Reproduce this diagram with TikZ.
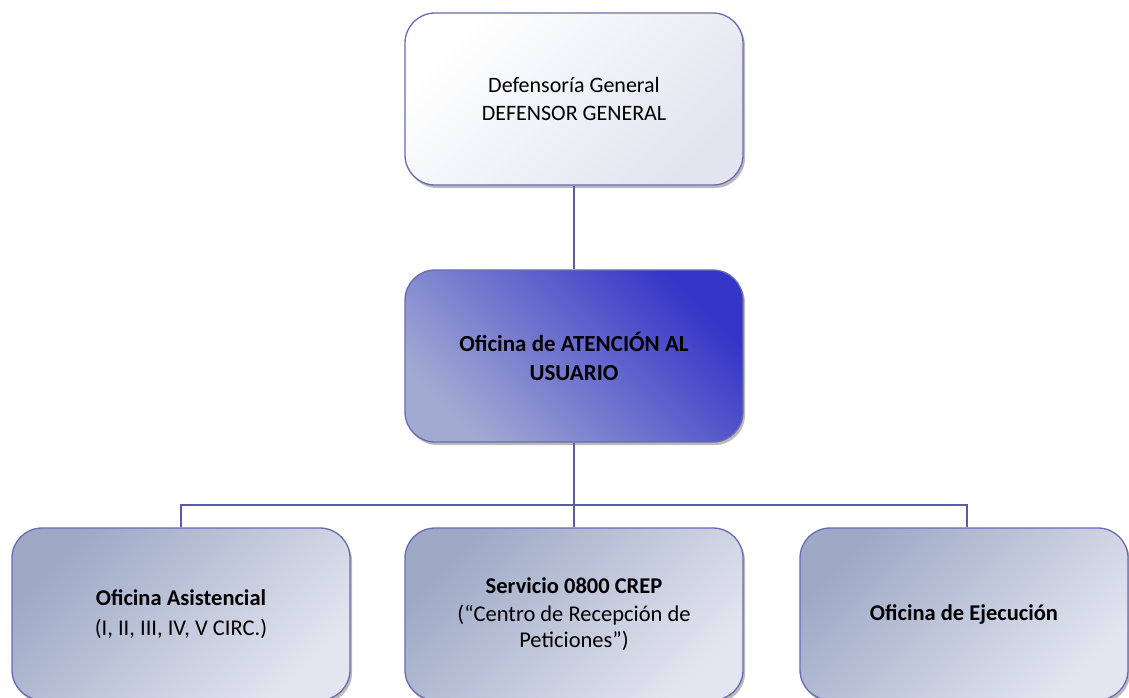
\documentclass[tikz,border=0pt]{standalone}
\usepackage{fontspec}
\setmainfont{Carlito}
\usetikzlibrary{shadows}
\definecolor{bordc}{HTML}{6A6AB4}
\definecolor{linec}{HTML}{5A5AAA}
\definecolor{topend}{HTML}{E2E4EF}
\definecolor{middark}{HTML}{3434C8}
\definecolor{midlight}{HTML}{A2AAD2}
\definecolor{botdark}{HTML}{9EA9C6}
\definecolor{botlight}{HTML}{E3E6F0}
\tikzset{
  box/.style={draw=bordc, line width=1.3pt, rounded corners=30pt,
    minimum width=338pt, minimum height=172pt, align=center,
    font=\fontsize{22}{28}\selectfont,
    drop shadow={shadow xshift=2pt, shadow yshift=-3pt, fill=black!60, opacity=0.45}},
  topbox/.style={box, top color=white, bottom color=topend, shading angle=45},
  midbox/.style={box, top color=middark, bottom color=midlight, shading angle=-45},
  botbox/.style={box, top color=botdark, bottom color=botlight, shading angle=45,
    font=\fontsize{22.5}{28}\selectfont},
  conn/.style={draw=linec, line width=1.3pt}
}
\begin{document}
\begin{tikzpicture}[x=1pt, y=-1pt]
\useasboundingbox (0,0) rectangle (1129,697);
\node[topbox] (top) at (574,99) {Defensoría General\\DEFENSOR GENERAL};
\node[midbox, font=\fontsize{23}{29}\selectfont] (mid) at (574,356) {\bfseries Oficina de ATENCIÓN AL\\\bfseries USUARIO};
\node[botbox] (b1) at (181,614) {\bfseries Oficina Asistencial\\[2pt](I, II, III, IV, V CIRC.)};
\node[botbox, font=\fontsize{22.5}{26}\selectfont] (b2) at (574,614) {\bfseries Servicio 0800 CREP\\[2pt](“Centro de Recepción de\\Peticiones”)};
\node[botbox, minimum width=328pt] (b3) at (964,614) {\bfseries Oficina de Ejecución};
\coordinate (j) at (574,505);
\draw[conn] (top.south) -- (mid.north);
\draw[conn] (mid.south) -- (j);
\draw[conn] (j) -| (b1.north);
\draw[conn] (j) -- (b2.north);
\draw[conn] (j) -| ([xshift=3pt]b3.north);
\end{tikzpicture}
\end{document}
